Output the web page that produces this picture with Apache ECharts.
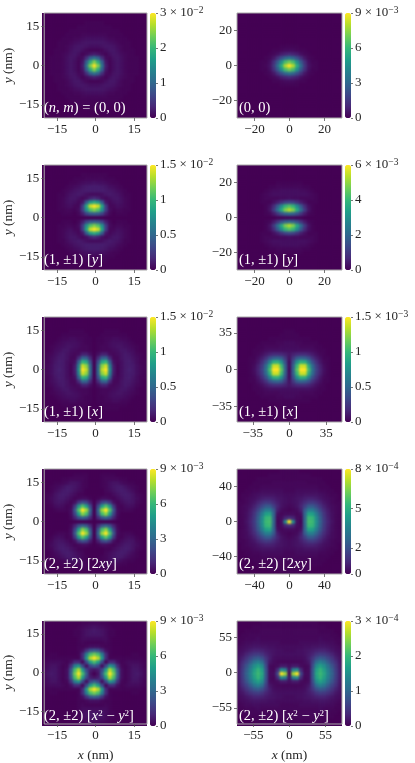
<!DOCTYPE html>
<html><head><meta charset="utf-8">
<script src="https://cdn.jsdelivr.net/npm/echarts@6/dist/echarts.min.js"></script>
<style>
html,body{margin:0;background:#fff}
#wrap{position:relative;width:415px;height:763px;overflow:hidden}
#heatClip,#c{position:absolute;left:0;top:0;width:415px;height:763px}
#heatClip{background:#440154}
#heat{width:415px;height:763px;filter:blur(1.1px)}
#c{filter:blur(0.3px)}
</style></head>
<body><div id="wrap"><div id="heatClip"><div id="heat"></div></div><div id="c"></div></div>
<script>
// Quadrant values, percent of colour-bar top. Rows: y from centre outwards; columns: x from centre outwards.
const q00L=[[100,80,38,8,1,4,6,4,2,1,1,1],[80,62,30,6,1,4,6,4,2,1,1,1],[38,30,13,3,2,5,6,4,2,1,1,1],[8,6,3,1,4,6,5,3,2,1,1],[1,1,2,4,6,6,4,2,1,1,1],[4,4,5,6,6,5,3,2,1,1],[6,6,6,5,4,3,2,1,1,1],[4,4,4,3,2,2,1,1,1],[2,2,2,2,1,1,1,1],[1,1,1,1,1,1,1],[1,1,1,1,1],[1,1,1],[],[]];
const q00R=[[100,88,62,36,16,5,2,1],[78,70,50,28,13,4,1,1],[38,33,24,14,6,2,1],[12,10,8,4,2,1],[3,3,2,1,1],[1,1,1],[],[],[],[],[],[],[],[]];
const q11yL=[[0],[30,28,20,8,2,0,1,1,1],[80,72,50,18,3,1,2,2,1,1],[100,92,58,18,2,2,4,3,2,1],[62,54,28,6,2,4,5,4,2,1],[12,9,4,2,4,6,6,4,2,1],[3,3,4,6,7,6,5,3,1,1],[8,8,8,7,6,5,3,2,1],[8,8,7,6,4,3,2,1],[5,4,4,3,2,1,1],[2,2,2,1,1,1],[1,1,1,1],[],[]];
const q11yR=[[2,2,1,1],[35,32,25,15,7,2,1],[88,80,60,36,17,5,1],[72,66,48,28,12,4,1],[22,20,14,8,4,1,1,1],[4,3,3,2,2,2,2,1],[4,4,4,4,4,3,2,1],[4,4,4,3,3,2,1],[2,2,2,2,1,1],[1,1,1,1],[],[],[],[]];
const q11xL=[[0,35,90,100,50,8,1,4,7,9,7,4,2,1],[0,33,82,92,44,7,1,4,7,8,7,4,2,1],[0,24,60,66,30,4,2,4,7,8,6,3,1,1],[0,12,30,32,12,2,2,5,7,7,5,3,1],[0,4,9,9,3,2,3,5,7,6,4,2,1],[0,1,2,2,2,3,4,6,6,4,3,1],[0,1,2,2,3,4,5,5,4,3,2,1],[0,1,1,2,3,4,4,4,3,2,1],[0,1,1,2,2,3,3,2,2,1],[0,0,1,1,1,1,1,1,1],[0,0,0,1,1,1,1],[],[],[]];
const q11xR=[[2,32,74,100,100,70,38,20,10,4,1],[3,30,68,92,92,62,34,18,9,3,1],[3,24,50,64,62,44,24,13,6,2,1],[5,16,28,32,30,24,14,8,4,1,1],[6,9,11,12,12,10,7,4,2,1],[4,4,4,4,4,4,3,2,1,1],[3,3,3,2,2,2,2,1,1],[3,3,2,2,1,1,1,1],[1,1,1,1,1,1],[1,1,1],[1,1],[],[],[]];
const q22xyL=[[0],[0,12,26,32,24,10,2],[0,26,70,82,56,20,3],[0,32,84,100,72,26,3,1,2,2,1],[0,22,56,72,52,16,2,1,3,4,3,1],[0,8,20,24,16,4,1,3,5,6,5,2,1],[0,1,3,3,2,1,3,5,7,7,5,3,1],[0,0,0,1,1,3,5,7,8,7,5,2,1],[0,0,0,2,3,5,7,8,7,5,3,1],[0,0,1,2,4,6,7,7,5,3,2,1],[0,0,1,2,4,5,5,3,2,1,1],[0,0,1,2,2,2,2,1,1],[0,0,1,1,1,1],[]];
const q22xyR=[[100,48,4,1,34,70,68,50,32,18,10,5,2,1],[14,10,3,2,32,68,66,48,30,17,9,4,2,1],[3,3,2,4,32,58,56,42,27,15,8,4,2,1],[1,2,3,8,28,42,42,32,21,12,7,3,2,1],[2,3,5,10,19,28,28,22,15,9,5,3,2,1],[3,4,5,8,12,16,17,14,10,6,4,2,1,1],[3,4,5,6,8,9,9,8,6,4,3,2,1],[3,3,4,4,5,5,5,5,4,3,2,1,1],[2,2,3,3,3,3,3,3,2,2,1,1],[2,2,2,2,2,2,2,2,1,1,1],[2,2,2,2,2,1,1,1,1,1],[1,1,1,1,1,1,1,1,1],[1,1,1,1,1,1],[1,1,1]];
const q22dL=[[0,5,30,70,100,78,30,4,1,3,6,7,5,2],[5,8,22,55,88,70,26,4,1,3,6,6,4,2],[30,22,4,22,52,42,14,2,1,3,5,5,3,1],[70,55,22,2,12,12,4,1,2,3,3,3,2,1],[100,88,52,12,1,1,1,1,1,1,1,1,1],[78,70,42,12,1,0,0,0,0,0,1,1],[30,26,14,4,1],[4,4,2,1,1],[1,1,1,2,1],[3,3,3,3,1],[6,6,5,3,1,1],[7,6,5,3,1,1],[5,4,3,2,1],[2,2,1,1]];
const q22dR=[[2,85,100,22,3,3,27,60,68,60,45,32,19,8],[6,44,50,12,2,3,26,57,66,57,43,30,18,8],[4,7,7,3,2,3,23,49,57,50,38,26,16,7],[2,2,2,2,3,6,19,36,44,39,29,20,13,6],[3,3,3,3,4,8,15,24,29,27,21,15,9,5],[4,4,4,4,5,7,10,15,18,17,14,10,6,4],[3,3,4,4,5,6,7,9,10,10,8,6,4,3],[3,3,3,3,4,4,5,5,6,6,5,4,3,2],[2,2,2,3,3,3,3,3,4,4,3,3,2,1],[2,2,2,2,2,2,2,2,3,2,2,2,1,1],[2,2,2,2,2,2,2,2,2,2,2,1,1],[2,2,2,2,2,2,2,2,1,1,1,1],[1,1,1,1,1,1,1,1,1,1],[1,1,1,1,1,1,1,1]];

const quadrants=[q00L,q00R,q11yL,q11yR,q11xL,q11xR,q22xyL,q22xyR,q22dL,q22dR];
const ranges=[20,30,20,30,20,50,20,60,20,80];
const axisTicks=[[-15,0,15],[-20,0,20],[-15,0,15],[-20,0,20],[-15,0,15],[-35,0,35],[-15,0,15],[-40,0,40],[-15,0,15],[-55,0,55]];
const barTicks=[[0,1,2,3],[0,3,6,9],[0,0.5,1,1.5],[0,2,4,6],[0,0.5,1,1.5],[0,0.5,1,1.5],[0,3,6,9],[0,2,5,8],[0,3,6,9],[0,1,2,3]];
const barExponents=['−2','−3','−2','−3','−2','−3','−3','−4','−3','−4'];
const labels=['({i|n}, {i|m}) = (0, 0)','(0, 0)','(1, ±1) [{i|y}]','(1, ±1) [{i|y}]','(1, ±1) [{i|x}]','(1, ±1) [{i|x}]','(2, ±2) [2{i|xy}]','(2, ±2) [2{i|xy}]','(2, ±2) [{i|x}{s|2} − {i|y}{s|2}]','(2, ±2) [{i|x}{s|2} − {i|y}{s|2}]'];
const viridis=['#440154','#482878','#3e4989','#31688e','#26828e','#1f9e89','#35b779','#6ece58','#b5de2b','#fde725'];
const tops=[13,165,317,469,621];
const lefts=[42,237];
const barLefts=[150,345];
const SIZE=105, HALF=13;
const FONT='"Liberation Serif","DejaVu Serif",serif';
const INK='#262626', FRAME='#a8a8a8';
const cats=[];for(let k=-HALF;k<=HALF;k++)cats.push(k);

// Blurred heat layer is clipped to the plot squares.
document.getElementById('heatClip').style.clipPath="path('"+tops.map(t=>lefts.map(l=>`M${l} ${t}h${SIZE}v${SIZE}h${-SIZE}z`).join(' ')).join(' ')+"')";

const hGrid=[],hX=[],hY=[],hSeries=[],hVisual=[];
const grid=[],xAxis=[],yAxis=[],visualMap=[],title=[];
quadrants.forEach((Q,p)=>{
  const col=p%2,row=(p-col)/2,R=ranges[p],top=tops[row],ticksA=axisTicks[p],ticksB=barTicks[p],bmax=ticksB[ticksB.length-1];
  hGrid.push({left:lefts[col],top,width:SIZE,height:SIZE});
  hX.push({gridIndex:p,type:'category',data:cats,show:false});
  hY.push({gridIndex:p,type:'category',data:cats,show:false});
  const data=[];
  for(let j=-HALF;j<=HALF;j++)for(let i=-HALF;i<=HALF;i++){
    const v=(Q[Math.abs(j)]||[])[Math.abs(i)]||0;
    data.push([i+HALF,j+HALF,v/100*bmax]);
  }
  hSeries.push({type:'heatmap',xAxisIndex:p,yAxisIndex:p,data,silent:true,animation:false,progressive:0,itemStyle:{borderWidth:0}});
  hVisual.push({type:'continuous',show:false,seriesIndex:p,min:0,max:bmax,inRange:{color:viridis}});

  const g=grid.length;
  grid.push({left:lefts[col],top,width:SIZE,height:SIZE,show:true,borderColor:FRAME,borderWidth:1,backgroundColor:'transparent'});
  grid.push({left:barLefts[col],top,width:6,height:SIZE,show:false});
  const txt={color:INK,fontFamily:FONT,fontSize:13,margin:5,formatter:v=>String(v).replace('-','−')};
  const ticks={show:true,length:3,lineStyle:{color:'#555',width:0.8},customValues:ticksA};
  const isB=row===4,isL=col===0;
  xAxis.push({gridIndex:g,type:'value',position:'bottom',min:-R,max:R,splitLine:{show:false},
    axisLine:{show:false,onZero:false},axisTick:ticks,axisLabel:{...txt,customValues:ticksA},
    ...(isB?{name:'{i|x} (nm)',nameLocation:'middle',nameGap:24,nameTextStyle:{color:INK,fontFamily:FONT,fontSize:13.5,rich:{i:{fontStyle:'italic',fontFamily:FONT,fontSize:13.5,color:INK}}}}:{})});
  yAxis.push({gridIndex:g,type:'value',position:'left',min:-R,max:R,splitLine:{show:false},
    axisLine:{show:false,onZero:false},axisTick:ticks,axisLabel:{...txt,customValues:ticksA},
    ...(isL?{name:'{i|y} (nm)',nameLocation:'middle',nameRotate:90,nameGap:24,nameTextStyle:{color:INK,fontFamily:FONT,fontSize:13.5,rich:{i:{fontStyle:'italic',fontFamily:FONT,fontSize:13.5,color:INK}}}}:{})});
  xAxis.push({gridIndex:g+1,type:'value',min:0,max:1,show:false});
  yAxis.push({gridIndex:g+1,type:'value',position:'right',min:0,max:bmax,splitLine:{show:false},
    axisLine:{show:false,onZero:false},
    axisTick:{show:true,length:2,lineStyle:{color:'#555',width:0.8},customValues:ticksB},
    axisLabel:{color:INK,fontFamily:FONT,fontSize:13,margin:4,customValues:ticksB,
      formatter:v=>v===bmax?v+' × 10{s|'+barExponents[p]+'}':String(v),
      rich:{s:{fontSize:9.5,fontFamily:FONT,color:INK,padding:[0,0,6,0]}}}});
  visualMap.push({type:'continuous',seriesIndex:[],min:0,max:bmax,left:barLefts[col],top,itemWidth:6,itemHeight:SIZE,padding:0,text:null,showLabel:false,calculable:false,hoverLink:false,inRange:{color:viridis},outOfRange:{color:viridis}});
  title.push({text:labels[p],left:lefts[col]+2,top:top+88,padding:0,
    textStyle:{color:'#fff',fontFamily:FONT,fontSize:14.5,fontWeight:'normal',
      rich:{i:{color:'#fff',fontFamily:FONT,fontSize:14.5,fontStyle:'italic'},s:{color:'#fff',fontFamily:FONT,fontSize:9,padding:[0,0,6,0]}}}});
});
const heat=echarts.init(document.getElementById('heat'),null,{renderer:'canvas'});
heat.setOption({animation:false,grid:hGrid,xAxis:hX,yAxis:hY,series:hSeries,visualMap:hVisual});
const chart=echarts.init(document.getElementById('c'),null,{renderer:'canvas'});
chart.setOption({animation:false,grid,xAxis,yAxis,series:[],visualMap,title});
</script></body></html>
